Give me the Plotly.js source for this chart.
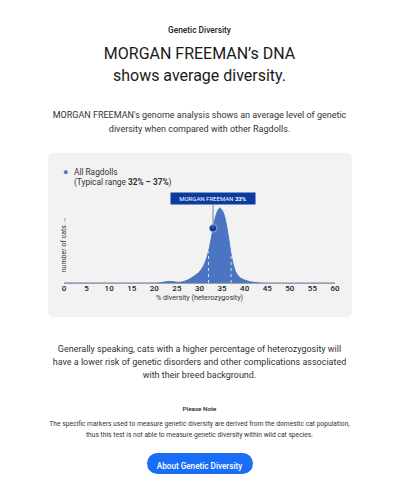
<!DOCTYPE html>
<html><head><meta charset="utf-8">
<script src="https://cdn.plot.ly/plotly-3.0.1.min.js"></script>
<style>
html,body{margin:0;padding:0;background:#fff;width:399px;height:496px;overflow:hidden;font-family:Roboto,"Noto Sans",sans-serif;color:#222;}
.t{position:absolute;left:0;width:399px;text-align:center;white-space:nowrap;height:20px;line-height:20px;}
.t span{display:inline-block;}
#chart{position:absolute;left:48px;top:153px;width:304px;height:164px;border-radius:5px;overflow:hidden;background:#f2f2f2;}
#btn{position:absolute;left:147px;top:453px;width:106px;height:21px;border-radius:11px;background:#1a6ef6;}
</style></head><body>
<div class="t" style="top:18px;" data-w="63"><span style="font-size:9px;font-weight:500;">Genetic Diversity</span></div>
<div class="t" style="top:44px;" data-g="title"><span style="font-size:18px;color:#1a1a1a;">MORGAN FREEMAN’s DNA</span></div>
<div class="t" style="top:66px;" data-g="title"><span style="font-size:18px;color:#1a1a1a;">shows average diversity.</span></div>
<div class="t" style="top:103px;" data-g="p1"><span style="font-size:10px;color:#333;">MORGAN FREEMAN's genome analysis shows an average level of genetic</span></div>
<div class="t" style="top:117px;" data-g="p1"><span style="font-size:10px;color:#333;">diversity when compared with other Ragdolls.</span></div>
<div id="chart"></div>
<div class="t" style="top:337px;" data-g="p2"><span style="font-size:10px;color:#333;">Generally speaking, cats with a higher percentage of heterozygosity will</span></div>
<div class="t" style="top:350px;" data-g="p2"><span style="font-size:10px;color:#333;">have a lower risk of genetic disorders and other complications associated</span></div>
<div class="t" style="top:363px;" data-g="p2"><span style="font-size:10px;color:#333;">with their breed background.</span></div>
<div class="t" style="top:396px;" data-w="34"><span style="font-size:7px;font-weight:500;color:#222;">Please Note</span></div>
<div class="t" style="top:411px;" data-g="n"><span style="font-size:7px;color:#333;">The specific markers used to measure genetic diversity are derived from the domestic cat population,</span></div>
<div class="t" style="top:422px;" data-g="n"><span style="font-size:7px;color:#333;">thus this test is not able to measure genetic diversity within wild cat species.</span></div>
<div id="btn"></div>
<div class="t" style="top:453.5px;" data-w="86"><span style="font-size:9.5px;font-weight:500;color:#fff;">About Genetic Diversity</span></div>
<script>
// distribution of heterozygosity across all Ragdolls (relative density)
const diversityPct = [0,20,21,22,23,24,25,26,27,28,29,30,30.5,31,31.5,32,32.5,33,33.5,34,34.5,35,35.5,36,36.5,37,37.5,38,38.5,39,40,41,42,43,44,60];
const catDensity   = [0,0,0.002,0.01,0.02,0.02,0.01,0.012,0.03,0.06,0.1,0.15,0.19,0.24,0.32,0.42,0.56,0.73,0.87,0.96,1.0,0.97,0.9,0.76,0.58,0.38,0.24,0.15,0.1,0.07,0.04,0.02,0.01,0.003,0,0];
const typicalRange = [32, 37];
const petName = "MORGAN FREEMAN";
const petValue = 33;
const xTicks = [0,5,10,15,20,25,30,35,40,45,50,55,60];

// fit text widths
const groupTargets = {title:191, p1:294, p2:294, n:301};
document.querySelectorAll('[data-w]').forEach(d=>{
  const s=d.firstElementChild; const fs=parseFloat(s.style.fontSize);
  s.style.fontSize=(fs*parseFloat(d.dataset.w)/s.offsetWidth)+'px';
});
Object.keys(groupTargets).forEach(g=>{
  const els=[...document.querySelectorAll('[data-g="'+g+'"]')].map(d=>d.firstElementChild);
  const maxW=Math.max(...els.map(s=>s.offsetWidth));
  const fs=parseFloat(els[0].style.fontSize);
  els.forEach(s=>s.style.fontSize=(fs*groupTargets[g]/maxW)+'px');
});

function densityAt(v){
  for(let i=0;i<diversityPct.length-1;i++){
    if(v>=diversityPct[i] && v<=diversityPct[i+1]){
      const f=(v-diversityPct[i])/(diversityPct[i+1]-diversityPct[i]);
      return catDensity[i]+f*(catDensity[i+1]-catDensity[i]);
    }
  }
  return 0;
}
const fillCol = '#4b74c3';
const dark = '#0b3b9e';
const traces = [
  {x:diversityPct, y:catDensity, type:'scatter', mode:'lines', line:{shape:'spline', smoothing:0.8, color:fillCol, width:1}, fill:'tozeroy', fillcolor:fillCol, hoverinfo:'skip'},
  {x:[petValue], y:[densityAt(petValue)], type:'scatter', mode:'markers', marker:{size:7.5, color:dark, line:{color:'rgba(255,255,255,0.6)', width:0.8}}, hoverinfo:'skip'}
];
const shapes = typicalRange.map(v=>({type:'line', xref:'x', yref:'y', x0:v, x1:v, y0:0, y1:densityAt(v), line:{color:'rgba(255,255,255,0.75)', width:1, dash:'dot'}}));
const fnt = 'Roboto, "Noto Sans", sans-serif';
const annotations = [
  {xref:'paper', yref:'paper', x:0.007, y:1.233, xanchor:'center', yanchor:'middle', showarrow:false, text:'●', font:{size:9, color:fillCol}},
  {xref:'paper', yref:'paper', x:0.031, y:1.233, xanchor:'left', yanchor:'middle', showarrow:false, text:'All Ragdolls', font:{size:8.3, color:'#333', family:fnt}},
  {xref:'paper', yref:'paper', x:0.031, y:1.122, xanchor:'left', yanchor:'middle', showarrow:false,
   text:'(Typical range <b>'+typicalRange[0]+'% – '+typicalRange[1]+'%</b>)', font:{size:8.3, color:'#333', family:fnt}},
  {x:petValue, y:densityAt(petValue), xref:'x', yref:'y', text:petName+' <b>'+petValue+'%</b>', showarrow:true, arrowhead:0, arrowwidth:1, arrowcolor:'#6b7fae',
   ax:0, ay:-30, bgcolor:dark, borderpad:2, font:{size:6, color:'#fff', family:fnt}, width:80, height:7},
  {xref:'paper', yref:'paper', x:0.0, y:0.43, textangle:-90, showarrow:false, text:'number of cats →', font:{size:7, color:'#333', family:fnt}, xanchor:'center', yanchor:'middle'},
  {xref:'paper', yref:'paper', x:0.5, y:-0.165, showarrow:false, text:'% diversity (heterozygosity)', font:{size:7.2, color:'#333', family:fnt}, xanchor:'center', yanchor:'middle'}
];
const layout = {
  width:304, height:164, margin:{l:16, r:17, t:40, b:34},
  paper_bgcolor:'#f2f2f2', plot_bgcolor:'#f2f2f2', showlegend:false,
  font:{family:fnt, color:'#333'},
  xaxis:{range:[0,60], tickvals:xTicks, ticktext:xTicks.map(String), showgrid:false, zeroline:false, showline:true, linecolor:'#a0a0a0', linewidth:1,
         ticks:'', ticklabelstandoff:-3, tickfont:{size:8, color:'#222', weight:500}, fixedrange:true},
  yaxis:{range:[0,1.2], visible:false, fixedrange:true},
  shapes:shapes, annotations:annotations
};
Plotly.newPlot('chart', traces, layout, {displayModeBar:false, staticPlot:true});
</script>
</body></html>
